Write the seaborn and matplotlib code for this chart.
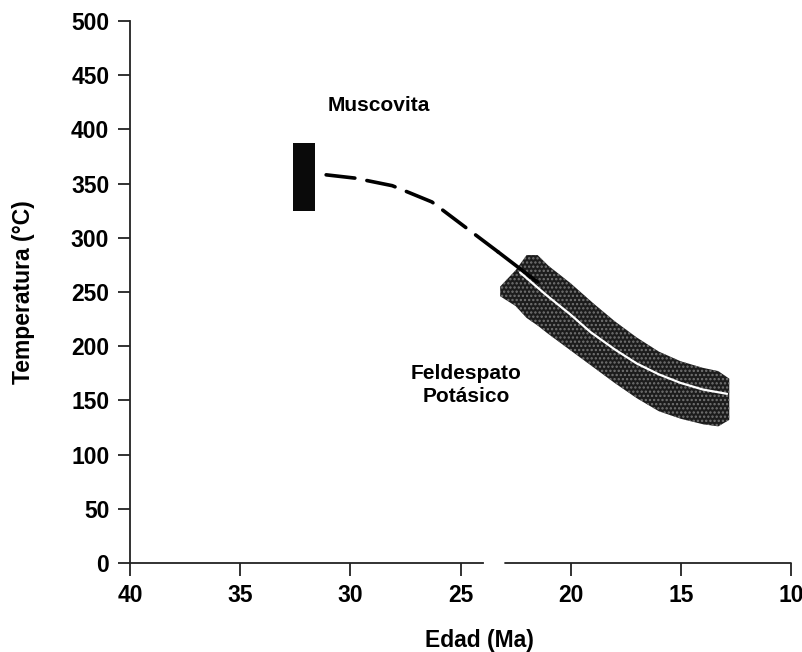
import matplotlib
matplotlib.use("Agg")
import matplotlib.pyplot as plt
import numpy as np
import pandas as pd
import seaborn as sns

# Muscovite closure window (age range, temperature range)
musc_age = [32.6, 31.6]
musc_temp_lo = [325, 325]
musc_temp_hi = [387, 387]

# Inferred cooling path between the two thermochronometers
path_age = [31.1, 29.8, 28.1, 26.3, 24.8, 23.3]
path_temp = [358, 355, 348, 333, 310, 287]

# Start of the modelled K-feldspar path (drawn solid)
lead_age = [23.3, 22.4, 21.5]
lead_temp = [287, 273, 259]

# K-feldspar best-fit cooling curve
kfs_age = [22.3, 21.1, 20.0, 19.1, 18.0, 17.0, 16.0, 15.0, 14.0, 12.9]
kfs_temp = [268, 247, 229, 213, 197, 184, 174, 166, 160, 156]

# K-feldspar envelope
band_age = [23.2, 22.5, 22.0, 21.5, 21.0, 20.0, 19.0, 18.0, 17.0, 16.0, 15.0, 14.0, 13.3, 12.8]
band_hi = [255, 270, 284, 284, 274, 258, 240, 223, 208, 195, 186, 180, 177, 170]
band_lo = [246, 237, 226, 219, 211, 196, 181, 166, 152, 140, 133, 128, 126, 132]

x_ticks = [40, 35, 30, 25, 20, 15, 10]
y_ticks = [0, 50, 100, 150, 200, 250, 300, 350, 400, 450, 500]
axis_gap = (24, 23)

sns.set_theme(style="ticks")
plt.rcParams["font.family"] = ["Liberation Sans", "DejaVu Sans"]
plt.rcParams["font.weight"] = "bold"
plt.rcParams["hatch.linewidth"] = 1.1

fig = plt.figure(figsize=(8.03, 6.52), dpi=100)
ax = fig.add_axes([0.162, 0.1365, 0.823, 0.8315])

# envelope
ax.fill_between(band_age, band_lo, band_hi, facecolor="#1c1c1c",
                edgecolor="#747474", hatch="....", linewidth=0, zorder=2)

# muscovite box
ax.fill_between(musc_age, musc_temp_lo, musc_temp_hi, color="#0a0a0a",
                linewidth=0, zorder=3)

path_df = pd.DataFrame({"age": path_age, "temp": path_temp})
lead_df = pd.DataFrame({"age": lead_age, "temp": lead_temp})
kfs_df = pd.DataFrame({"age": kfs_age, "temp": kfs_temp})

sns.lineplot(data=path_df, x="age", y="temp", ax=ax, color="black",
             linewidth=2.6, sort=False, estimator=None, zorder=4)
ax.lines[-1].set_dashes([8.0, 3.4])
ax.lines[-1].set_dash_capstyle("round")
sns.lineplot(data=lead_df, x="age", y="temp", ax=ax, color="black",
             linewidth=2.6, sort=False, estimator=None, zorder=4)
sns.lineplot(data=kfs_df, x="age", y="temp", ax=ax, color="white",
             linewidth=1.6, sort=False, estimator=None, zorder=5)

ax.text(28.7, 422, "Muscovita", ha="center", va="center",
        fontsize=15, fontweight="bold", color="black")
ax.text(24.75, 164, "Feldespato\nPotásico", ha="center", va="center",
        fontsize=15, fontweight="bold", color="black", linespacing=1.25)

ax.set_xlim(40, 10)
ax.set_ylim(0, 500)
ax.set_xticks(x_ticks)
ax.set_yticks(y_ticks)
ax.tick_params(axis="both", direction="out", length=9, width=1.3,
               color="#222222", labelsize=16.5, pad=6, labelcolor="black")
for lab in ax.get_xticklabels() + ax.get_yticklabels():
    lab.set_fontweight("bold")

ax.set_xlabel("Edad (Ma)", fontsize=16.5, fontweight="bold", labelpad=16,
              color="black")
ax.xaxis.label.set_x(0.528)
ax.set_ylabel("Temperatura (°C)", fontsize=16.5, fontweight="bold", labelpad=26,
              color="black")

sns.despine(ax=ax)
for side in ("left", "bottom"):
    ax.spines[side].set_linewidth(1.3)
    ax.spines[side].set_color("#222222")
# bottom axis line is broken just before 23 Ma
ax.spines["bottom"].set_bounds(axis_gap[0], 40)
ax.plot([axis_gap[1], 10], [0, 0], color="#222222", linewidth=1.3,
        clip_on=False, zorder=1)
ax.grid(False)

fig.savefig("out.png", dpi=100, facecolor="white")
